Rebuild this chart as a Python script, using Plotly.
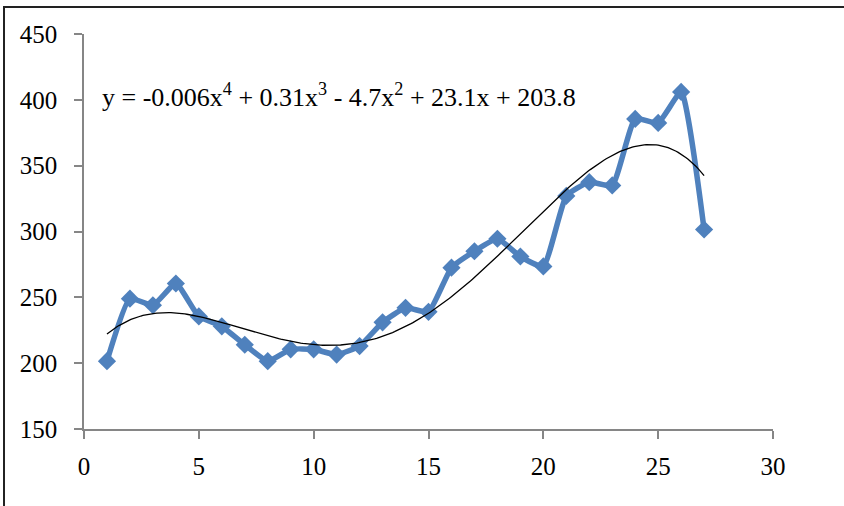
import numpy as np
import plotly.graph_objects as go

# Observed series
x_vals = list(range(1, 28))
y_vals = [201.5, 249, 244, 260.5, 235.5, 228, 214, 201.5, 210.5, 210.5,
          206.5, 213, 231, 242, 239, 272.5, 285, 294.5, 281, 273.5,
          327, 337.5, 335, 385.5, 382.5, 406, 301.5]

x_ticks = [0, 5, 10, 15, 20, 25, 30]
y_ticks = [150, 200, 250, 300, 350, 400, 450]

equation_label = ("y = -0.006x<sup>4</sup> + 0.31x<sup>3</sup> - 4.7x<sup>2</sup>"
                  " + 23.1x + 203.8")

# 4th-order polynomial trendline fitted to the series
coef = np.polyfit(x_vals, y_vals, 4)
x_fit = np.linspace(min(x_vals), max(x_vals), 300)
y_fit = np.polyval(coef, x_fit)

BLUE = "#4F81BD"
AXIS = "#868686"
FONT = "Liberation Serif"

fig = go.Figure()
fig.add_trace(go.Scatter(
    x=x_vals, y=y_vals, mode="lines+markers",
    line=dict(color=BLUE, width=5.5, shape="spline", smoothing=0.45),
    marker=dict(symbol="diamond", size=14, color=BLUE),
    showlegend=False, hoverinfo="x+y",
))
fig.add_trace(go.Scatter(
    x=x_fit, y=y_fit, mode="lines",
    line=dict(color="#000000", width=1.3),
    showlegend=False, hoverinfo="skip",
))

fig.add_annotation(
    x=0.023, y=0.845, xref="paper", yref="paper",
    xanchor="left", yanchor="middle", showarrow=False,
    text=equation_label,
    font=dict(family=FONT, size=26, color="#000000"),
)

# outer chart-area frame (top and left edges visible)
fig.add_shape(type="rect", xref="paper", yref="paper",
              x0=-0.1161, x1=1.5, y0=-0.5, y1=1.0683,
              line=dict(color="#222222", width=2), layer="below")

fig.update_layout(
    width=844, height=506,
    margin=dict(l=84, r=71, t=34, b=76.5),
    paper_bgcolor="white", plot_bgcolor="white",
    font=dict(family=FONT, size=24, color="#000000"),
)
fig.update_xaxes(
    range=[0, 30], tickvals=x_ticks, ticktext=[str(v) for v in x_ticks],
    showgrid=False, zeroline=False, showline=True,
    linecolor=AXIS, linewidth=1.5, ticks="outside", ticklen=8,
    tickcolor=AXIS, tickwidth=1.5, ticklabelstandoff=6,
    tickfont=dict(family=FONT, size=25),
)
fig.update_yaxes(
    range=[150, 450], tickvals=y_ticks, ticktext=[str(v) for v in y_ticks],
    showgrid=False, zeroline=False, showline=True,
    linecolor=AXIS, linewidth=1.5, ticks="outside", ticklen=8,
    tickcolor=AXIS, tickwidth=1.5, ticklabelstandoff=12,
    tickfont=dict(family=FONT, size=25),
)

fig.write_html("out.html")
